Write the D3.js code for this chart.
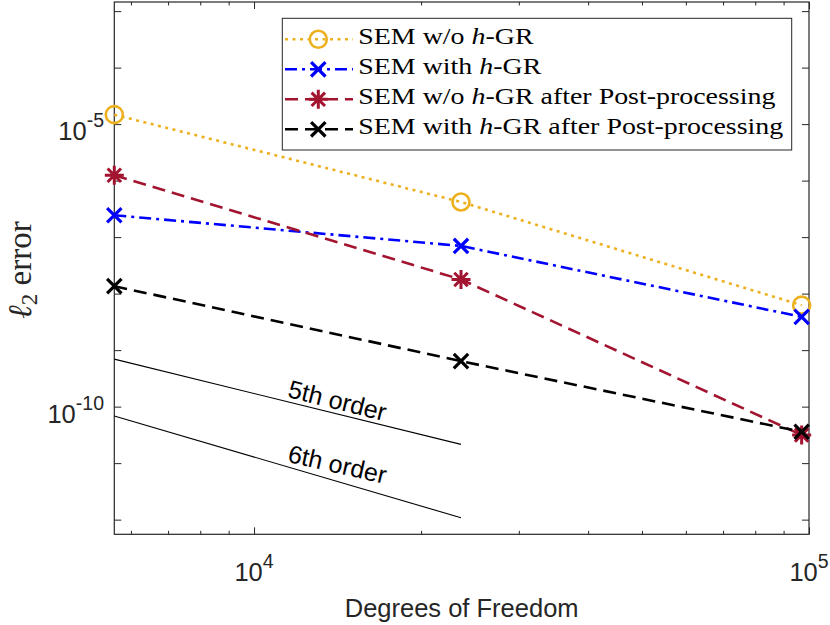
<!DOCTYPE html>
<html>
<head>
<meta charset="utf-8">
<script src="https://cdn.jsdelivr.net/npm/d3@7"></script>
<style>
  body { margin: 0; background: #fff; }
  svg { display: block; }
</style>
</head>
<body>
<script>
const width = 830;
const height = 625;
const plotLeft = 114.3, plotRight = 809, plotTop = 2, plotBottom = 534.3;

// degrees of freedom (x)
const dof = [5600, 23600, 97000];

// l2 error of each method
const semNoGR   = [1.47e-5, 4.19e-7, 6.25e-9];
const semGR     = [2.44e-7, 6.98e-8, 3.88e-9];
const semNoGRPP = [1.245e-6, 1.78e-8, 3.14e-11];
const semGRPP   = [1.355e-8, 6.38e-10, 3.59e-11];

const seriesNames = [
  'SEM w/o h-GR',
  'SEM with h-GR',
  'SEM w/o h-GR after Post-processing',
  'SEM with h-GR after Post-processing'
];

// reference slope lines (end points)
const refX = [5600, 23600];
const ref5 = [6.93e-10, 2.15e-11];
const ref6 = [6.8e-11, 1.08e-12];
const refNames = ['5th order', '6th order'];
const refLabelX = [11450, 11450];
const refLabelY = [1.49e-10, 1.06e-11];

// ticks
const xMajor = [1e4, 1e5];
const xMinor = [6000, 7000, 8000, 9000, 20000, 30000, 40000, 50000, 60000, 70000, 80000, 90000];
const yTicks = [1e-12, 1e-11, 1e-10, 1e-9, 1e-8, 1e-7, 1e-6, 1e-5, 1e-4, 1e-3];
const yLabelled = [1e-10, 1e-5];

const axisColor = '#262626';

const x = d3.scaleLog().domain([5600, 1e5]).range([plotLeft, plotRight]);
const y = d3.scaleLog().domain([5.5e-13, 1.45e-3]).range([plotBottom, plotTop]);

const svg = d3.select('body')
  .append('svg')
  .attr('width', width)
  .attr('height', height)
  .style('font-family', '"Liberation Sans", Arial, sans-serif');

// ticks (inward, on all four sides)
function ticks(axisFn, scale, values, size, transform) {
  svg.append('g')
    .attr('transform', transform)
    .call(axisFn(scale).tickValues(values).tickSize(-size).tickFormat(''))
    .call(g => g.select('.domain').remove())
    .selectAll('line')
    .attr('stroke', axisColor)
    .attr('stroke-width', 1);
}
ticks(d3.axisBottom, x, xMajor, 7, `translate(0,${plotBottom})`);
ticks(d3.axisBottom, x, xMinor, 3.5, `translate(0,${plotBottom})`);
ticks(d3.axisTop, x, xMajor, 7, `translate(0,${plotTop})`);
ticks(d3.axisTop, x, xMinor, 3.5, `translate(0,${plotTop})`);
ticks(d3.axisLeft, y, yTicks, 7, `translate(${plotLeft},0)`);
ticks(d3.axisRight, y, yTicks, 7, `translate(${plotRight},0)`);

svg.append('rect')
  .attr('x', plotLeft).attr('y', plotTop)
  .attr('width', plotRight - plotLeft).attr('height', plotBottom - plotTop)
  .attr('fill', 'none')
  .attr('stroke', axisColor)
  .attr('stroke-width', 1.2);

// tick labels 10^n
function powerLabel(t, v) {
  t.append('tspan').text('10');
  t.append('tspan').attr('dy', -13).attr('font-size', 19.5).text(Math.round(Math.log10(v)));
}
xMajor.forEach(v => {
  const t = svg.append('text')
    .attr('x', x(v)).attr('y', plotBottom + 46.7)
    .attr('text-anchor', 'middle')
    .attr('font-size', 25.5)
    .attr('fill', axisColor);
  powerLabel(t, v);
});
yLabelled.forEach(v => {
  const t = svg.append('text')
    .attr('x', 104).attr('y', y(v) + 16)
    .attr('text-anchor', 'end')
    .attr('font-size', 25.5)
    .attr('fill', axisColor);
  powerLabel(t, v);
});

// axis titles
svg.append('text')
  .attr('x', (plotLeft + plotRight) / 2).attr('y', 617)
  .attr('text-anchor', 'middle')
  .attr('font-size', 25.5)
  .attr('fill', axisColor)
  .text('Degrees of Freedom');

const yt = svg.append('text')
  .attr('transform', `translate(31,${(plotTop + plotBottom) / 2 + 2}) rotate(-90)`)
  .attr('text-anchor', 'middle')
  .attr('font-family', '"Liberation Serif", "DejaVu Serif", serif')
  .attr('font-size', 33)
  .attr('fill', axisColor);
yt.append('tspan').attr('font-style', 'italic').text('ℓ');
yt.append('tspan').attr('dy', 6).attr('font-size', 23).text('2');
yt.append('tspan').attr('dy', -6).text(' error');

// reference slope lines
const line = d3.line()
  .x(d => x(d[0]))
  .y(d => y(d[1]));

[ref5, ref6].forEach((ref, i) => {
  svg.append('path')
    .attr('d', line(d3.zip(refX, ref)))
    .attr('fill', 'none')
    .attr('stroke', '#000')
    .attr('stroke-width', 1.1);
  svg.append('text')
    .attr('transform', `translate(${x(refLabelX[i])},${y(refLabelY[i])}) rotate(${[14, 12.8][i]})`)
    .attr('font-size', 25)
    .attr('fill', '#000')
    .text(refNames[i]);
});

// series
const series = [
  { name: seriesNames[0], values: semNoGR,   color: '#EDB120', dash: '3,4.5',    marker: 'o' },
  { name: seriesNames[1], values: semGR,     color: '#0000FF', dash: '12,5,3,5', marker: 'x' },
  { name: seriesNames[2], values: semNoGRPP, color: '#A2142F', dash: '13,7',     marker: '*' },
  { name: seriesNames[3], values: semGRPP,   color: '#000000', dash: '13,7',     marker: 'x' }
];

function drawMarker(g, type, cx, cy, color) {
  if (type === 'o') {
    g.append('circle')
      .attr('cx', cx).attr('cy', cy).attr('r', 8.5)
      .attr('fill', 'none').attr('stroke', color).attr('stroke-width', 2.6);
  } else if (type === 'x') {
    const s = 7.2;
    g.append('path')
      .attr('d', `M${cx - s},${cy - s}L${cx + s},${cy + s}M${cx - s},${cy + s}L${cx + s},${cy - s}`)
      .attr('stroke', color).attr('stroke-width', 3.2).attr('fill', 'none');
  } else {
    const s = 9.5, d = s * 0.7071;
    g.append('path')
      .attr('d', `M${cx - s},${cy}L${cx + s},${cy}M${cx},${cy - s}L${cx},${cy + s}` +
                 `M${cx - d},${cy - d}L${cx + d},${cy + d}M${cx - d},${cy + d}L${cx + d},${cy - d}`)
      .attr('stroke', color).attr('stroke-width', 3).attr('fill', 'none');
  }
}

series.forEach(s => {
  const pts = d3.zip(dof, s.values);
  const g = svg.append('g');
  g.append('path')
    .attr('d', line(pts))
    .attr('fill', 'none')
    .attr('stroke', s.color)
    .attr('stroke-width', 2.6)
    .attr('stroke-dasharray', s.dash);
  pts.forEach(p => drawMarker(g, s.marker, x(p[0]), y(p[1]), s.color));
});

// legend
const legend = svg.append('g');
legend.append('rect')
  .attr('x', 282.3).attr('y', 18.3)
  .attr('width', 791.7 - 282.3).attr('height', 150 - 18.3)
  .attr('fill', '#fff')
  .attr('stroke', axisColor)
  .attr('stroke-width', 1);

const legendTexts = [];
series.forEach((s, i) => {
  const cy = 39.3 + i * 30;
  legend.append('line')
    .attr('x1', 285).attr('x2', 353)
    .attr('y1', cy).attr('y2', cy)
    .attr('stroke', s.color)
    .attr('stroke-width', 2.6)
    .attr('stroke-dasharray', s.dash);
  drawMarker(legend, s.marker, 318.3, cy, s.color);

  const t = legend.append('text')
    .attr('font-family', '"Liberation Serif", serif')
    .attr('font-size', 23.5)
    .attr('fill', '#000');
  const parts = s.name.split('h-GR');
  t.append('tspan').text(parts[0]);
  t.append('tspan').attr('font-style', 'italic').text('h');
  t.append('tspan').text('-GR' + parts[1]);
  legendTexts.push({ t, cy });
});
// stretch serif text to the width of the original LaTeX font
const natural = legendTexts[3].t.node().getComputedTextLength();
const k = (783.3 - 358.3) / natural;
legendTexts.forEach(({ t, cy }) => {
  t.attr('transform', `translate(358.3,${cy + 5}) scale(${k},1)`);
});
</script>
</body>
</html>
